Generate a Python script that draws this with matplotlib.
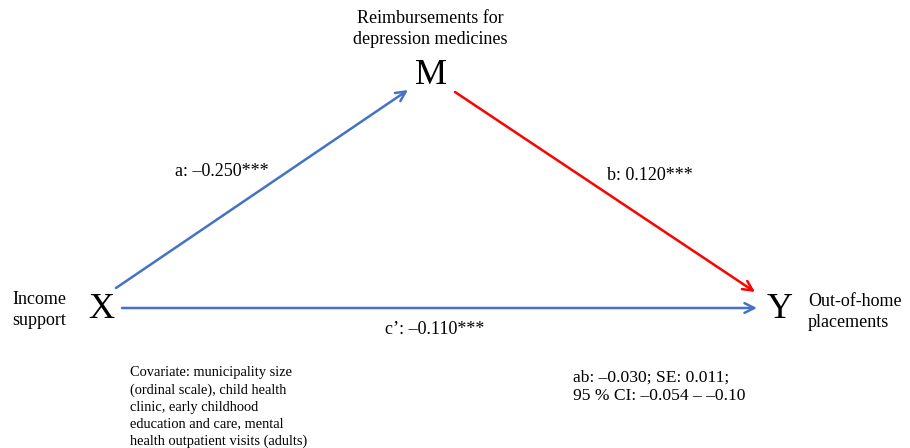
import matplotlib
matplotlib.use("Agg")
import matplotlib.pyplot as plt

# Data
node_letters = ["X", "M", "Y"]
node_names = ["Income\nsupport", "Reimbursements for\ndepression medicines", "Out-of-home\nplacements"]
path_names = ["a", "b", "c\u2019"]
path_coefs = [-0.250, 0.120, -0.110]
path_sig = ["***", "***", "***"]
indirect = {"ab": -0.030, "SE": 0.011, "ci_low": -0.054, "ci_high": -0.10}
covariates = "Covariate: municipality size\n(ordinal scale), child health\nclinic, early childhood\neducation and care, mental\nhealth outpatient visits (adults)"

def fmt(v):
    s = f"{abs(v):.3f}"
    return ("\u2013" if v < 0 else "") + s

plt.rcParams['font.family'] = ['Liberation Serif', 'DejaVu Serif']

fig = plt.figure(figsize=(9.10, 4.48), dpi=100)
ax = fig.add_axes([0, 0, 1, 1])
ax.set_xlim(0, 910)
ax.set_ylim(448, 0)
ax.axis('off')

blue = "#4472C4"
red = "#FF0000"

def arrow(x0, y0, x1, y1, c):
    ax.annotate("", xy=(x1, y1), xytext=(x0, y0),
                arrowprops=dict(arrowstyle="->,head_length=0.7,head_width=0.35",
                                color=c, lw=1.8, shrinkA=0, shrinkB=0))

arrow(116, 288, 408, 90, blue)
arrow(455, 92, 755, 292, red)
arrow(122, 308, 757, 308, blue)

# node letters
ax.text(101, 309, node_letters[0], fontsize=26, ha='center', va='center')
ax.text(431, 75, node_letters[1], fontsize=26, ha='center', va='center')
ax.text(780, 309, node_letters[2], fontsize=26, ha='center', va='center')

# node names
ax.text(12, 310, node_names[0], fontsize=13, ha='left', va='center', linespacing=1.25)
ax.text(430, 29, node_names[1], fontsize=13, ha='center', va='center', linespacing=1.25)
ax.text(808, 312, node_names[2], fontsize=13, ha='left', va='center', linespacing=1.25)

# path labels
ax.text(175, 171, f"{path_names[0]}: {fmt(path_coefs[0])}{path_sig[0]}", fontsize=13, ha='left', va='center')
ax.text(607, 175, f"{path_names[1]}: {fmt(path_coefs[1])}{path_sig[1]}", fontsize=13, ha='left', va='center')
ax.text(385, 330, f"{path_names[2]}: {fmt(path_coefs[2])}{path_sig[2]}", fontsize=13, ha='left', va='center')

# covariates
ax.text(130, 407, covariates, fontsize=10.4, ha='left', va='center', linespacing=1.38)

# indirect effect
ab_txt = (f"ab: {fmt(indirect['ab'])}; SE: {indirect['SE']:.3f};\n"
          f"95 % CI: {fmt(indirect['ci_low'])} \u2013 \u2013{abs(indirect['ci_high']):.2f}")
ax.text(573, 387, ab_txt, fontsize=12.6, ha='left', va='center', linespacing=1.25)

fig.savefig("out.png", dpi=100)
